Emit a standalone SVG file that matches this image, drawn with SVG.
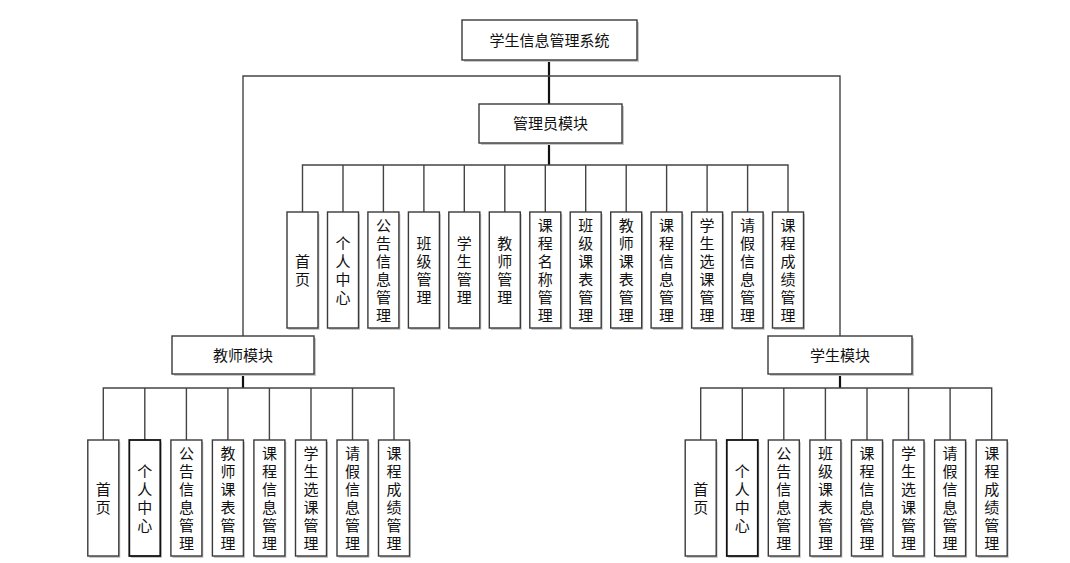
<svg xmlns="http://www.w3.org/2000/svg" width="1070" height="563" viewBox="0 0 1070 563">
<defs>
<style>
.box{fill:#fff;stroke:#3a3a3a;stroke-width:1.4}
.box2{fill:#fff;stroke:#111;stroke-width:1.8}
.sh{fill:#c8c8c8}
.t{font-family:"Noto Sans CJK SC","Liberation Sans",sans-serif;font-size:15px;fill:#111;text-anchor:middle}
.v{font-family:"Noto Sans CJK SC","Liberation Sans",sans-serif;font-size:15px;fill:#111;text-anchor:middle;writing-mode:vertical-rl;letter-spacing:3px}
.ln{stroke:#444;stroke-width:1.4;fill:none}
.stem{stroke:#111;stroke-width:2.2;fill:none}
</style>
</defs>
<rect width="1070" height="563" fill="#fff"/>
<g id="connectors">
<path class="stem" d="M549 60V104"/>
<path class="ln" d="M243 336V76H840V336"/>
<path class="stem" d="M549 143V165"/>
<path class="ln" d="M302.5 212V165H788V212M343 165V212M383.4 165V212M423.9 165V212M464.3 165V212M504.8 165V212M545.3 165V212M585.7 165V212M626.2 165V212M666.6 165V212M707.1 165V212M747.6 165V212"/>
<path class="stem" d="M243 374V388"/>
<path class="ln" d="M103.3 440V388H394V440M144.8 388V440M186.4 388V440M227.9 388V440M269.4 388V440M311 388V440M352.5 388V440"/>
<path class="stem" d="M840 374V388"/>
<path class="ln" d="M700.7 440V388H991.7V440M742.3 388V440M783.8 388V440M825.4 388V440M867 388V440M908.5 388V440M950.1 388V440"/>
</g>
<g id="root"><rect class="sh" x="464" y="22" width="175" height="40"/><rect class="box" x="462" y="20" width="175" height="40"/><text class="t" x="549.5" y="45.5">学生信息管理系统</text></g>
<g id="admin"><rect class="sh" x="481" y="106" width="143" height="39"/><rect class="box" x="479" y="104" width="143" height="39"/><text class="t" x="550.5" y="129">管理员模块</text></g>
<g id="teacher"><rect class="sh" x="174" y="338" width="142" height="38"/><rect class="box" x="172" y="336" width="142" height="38"/><text class="t" x="243" y="360.5">教师模块</text></g>
<g id="student"><rect class="sh" x="770" y="338" width="144" height="38"/><rect class="box" x="768" y="336" width="144" height="38"/><text class="t" x="840" y="360.5">学生模块</text></g>

<g id="a1"><rect class="sh" x="288.5" y="214" width="31" height="116"/><rect class="box" x="287" y="212" width="31" height="116"/><text class="v" x="302.5" y="271.5">首页</text></g>
<g id="a2"><rect class="sh" x="329" y="214" width="31" height="116"/><rect class="box" x="327.5" y="212" width="31" height="116"/><text class="v" x="343" y="271.5">个人中心</text></g>
<g id="a3"><rect class="sh" x="369.4" y="214" width="31" height="116"/><rect class="box" x="367.9" y="212" width="31" height="116"/><text class="v" x="383.4" y="271.5">公告信息管理</text></g>
<g id="a4"><rect class="sh" x="409.9" y="214" width="31" height="116"/><rect class="box" x="408.4" y="212" width="31" height="116"/><text class="v" x="423.9" y="271.5">班级管理</text></g>
<g id="a5"><rect class="sh" x="450.3" y="214" width="31" height="116"/><rect class="box" x="448.8" y="212" width="31" height="116"/><text class="v" x="464.3" y="271.5">学生管理</text></g>
<g id="a6"><rect class="sh" x="490.8" y="214" width="31" height="116"/><rect class="box" x="489.3" y="212" width="31" height="116"/><text class="v" x="504.8" y="271.5">教师管理</text></g>
<g id="a7"><rect class="sh" x="531.3" y="214" width="31" height="116"/><rect class="box" x="529.8" y="212" width="31" height="116"/><text class="v" x="545.3" y="271.5">课程名称管理</text></g>
<g id="a8"><rect class="sh" x="571.7" y="214" width="31" height="116"/><rect class="box" x="570.2" y="212" width="31" height="116"/><text class="v" x="585.7" y="271.5">班级课表管理</text></g>
<g id="a9"><rect class="sh" x="612.2" y="214" width="31" height="116"/><rect class="box" x="610.7" y="212" width="31" height="116"/><text class="v" x="626.2" y="271.5">教师课表管理</text></g>
<g id="a10"><rect class="sh" x="652.6" y="214" width="31" height="116"/><rect class="box" x="651.1" y="212" width="31" height="116"/><text class="v" x="666.6" y="271.5">课程信息管理</text></g>
<g id="a11"><rect class="sh" x="693.1" y="214" width="31" height="116"/><rect class="box" x="691.6" y="212" width="31" height="116"/><text class="v" x="707.1" y="271.5">学生选课管理</text></g>
<g id="a12"><rect class="sh" x="733.6" y="214" width="31" height="116"/><rect class="box" x="732.1" y="212" width="31" height="116"/><text class="v" x="747.6" y="271.5">请假信息管理</text></g>
<g id="a13"><rect class="sh" x="774" y="214" width="31" height="116"/><rect class="box" x="772.5" y="212" width="31" height="116"/><text class="v" x="788" y="271.5">课程成绩管理</text></g>

<g id="t1"><rect class="sh" x="89.3" y="442" width="31" height="116"/><rect class="box" x="87.8" y="440" width="31" height="116"/><text class="v" x="103.3" y="499.5">首页</text></g>
<g id="t2"><rect class="sh" x="130.8" y="442" width="31" height="116"/><rect class="box2" x="129.3" y="440" width="31" height="116"/><text class="v" x="144.8" y="499.5">个人中心</text></g>
<g id="t3"><rect class="sh" x="172.4" y="442" width="31" height="116"/><rect class="box" x="170.9" y="440" width="31" height="116"/><text class="v" x="186.4" y="499.5">公告信息管理</text></g>
<g id="t4"><rect class="sh" x="213.9" y="442" width="31" height="116"/><rect class="box" x="212.4" y="440" width="31" height="116"/><text class="v" x="227.9" y="499.5">教师课表管理</text></g>
<g id="t5"><rect class="sh" x="255.4" y="442" width="31" height="116"/><rect class="box" x="253.9" y="440" width="31" height="116"/><text class="v" x="269.4" y="499.5">课程信息管理</text></g>
<g id="t6"><rect class="sh" x="297" y="442" width="31" height="116"/><rect class="box" x="295.5" y="440" width="31" height="116"/><text class="v" x="311" y="499.5">学生选课管理</text></g>
<g id="t7"><rect class="sh" x="338.5" y="442" width="31" height="116"/><rect class="box" x="337" y="440" width="31" height="116"/><text class="v" x="352.5" y="499.5">请假信息管理</text></g>
<g id="t8"><rect class="sh" x="380" y="442" width="31" height="116"/><rect class="box" x="378.5" y="440" width="31" height="116"/><text class="v" x="394" y="499.5">课程成绩管理</text></g>

<g id="s1"><rect class="sh" x="686.7" y="442" width="31" height="116"/><rect class="box" x="685.2" y="440" width="31" height="116"/><text class="v" x="700.7" y="499.5">首页</text></g>
<g id="s2"><rect class="sh" x="728.3" y="442" width="31" height="116"/><rect class="box2" x="726.8" y="440" width="31" height="116"/><text class="v" x="742.3" y="499.5">个人中心</text></g>
<g id="s3"><rect class="sh" x="769.8" y="442" width="31" height="116"/><rect class="box" x="768.3" y="440" width="31" height="116"/><text class="v" x="783.8" y="499.5">公告信息管理</text></g>
<g id="s4"><rect class="sh" x="811.4" y="442" width="31" height="116"/><rect class="box" x="809.9" y="440" width="31" height="116"/><text class="v" x="825.4" y="499.5">班级课表管理</text></g>
<g id="s5"><rect class="sh" x="853" y="442" width="31" height="116"/><rect class="box" x="851.5" y="440" width="31" height="116"/><text class="v" x="867" y="499.5">课程信息管理</text></g>
<g id="s6"><rect class="sh" x="894.5" y="442" width="31" height="116"/><rect class="box" x="893" y="440" width="31" height="116"/><text class="v" x="908.5" y="499.5">学生选课管理</text></g>
<g id="s7"><rect class="sh" x="936.1" y="442" width="31" height="116"/><rect class="box" x="934.6" y="440" width="31" height="116"/><text class="v" x="950.1" y="499.5">请假信息管理</text></g>
<g id="s8"><rect class="sh" x="977.7" y="442" width="31" height="116"/><rect class="box" x="976.2" y="440" width="31" height="116"/><text class="v" x="991.7" y="499.5">课程成绩管理</text></g>
</svg>
